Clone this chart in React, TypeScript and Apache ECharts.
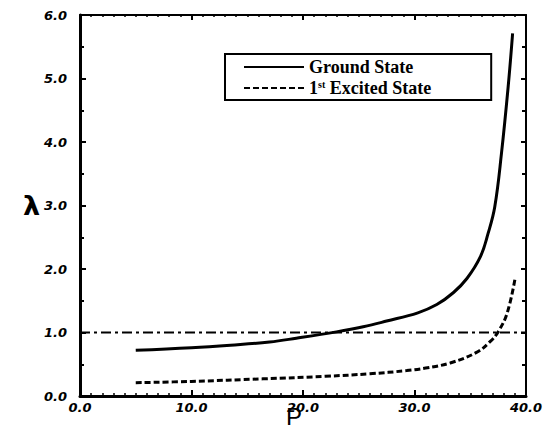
import React, { useEffect, useRef } from "react";
import * as echarts from "echarts";

const groundP = [5, 10, 13.5, 17, 19.4, 23.0, 25.4, 27.5, 30.3, 32.0, 33.5, 34.7, 35.9, 36.6, 37.2, 37.8, 38.4, 38.8];
const groundL = [0.72, 0.76, 0.8, 0.85, 0.91, 1.01, 1.09, 1.18, 1.31, 1.44, 1.63, 1.85, 2.19, 2.56, 2.98, 3.82, 4.87, 5.71];

const excitedP = [5, 10, 16.4, 22, 26, 29.3, 31, 33.2, 35.6, 36.8, 37.5, 38.3, 39.0];
const excitedL = [0.21, 0.23, 0.27, 0.31, 0.35, 0.4, 0.44, 0.52, 0.69, 0.86, 1.01, 1.3, 1.83];

const refP = [0, 40];
const refL = [1, 1];

const xTicks = { min: 0, max: 40, interval: 10 };
const yTicks = { min: 0, max: 6, interval: 1 };

const seriesNames = ["Ground State", "1st Excited State"];

const zip = (a: number[], b: number[]) => a.map((v, i) => [v, b[i]]);

const tickFont = {
  fontFamily: "DejaVu Sans",
  fontWeight: "bold" as const,
  fontStyle: "italic" as const,
  fontSize: 13,
  color: "#000",
};

export default function App() {
  const ref = useRef<HTMLDivElement>(null);
  useEffect(() => {
    if (!ref.current) return;
    const chart = echarts.init(ref.current, null, { renderer: "svg" });
    const legendFont = { fontFamily: "Liberation Serif", fontWeight: "bold" as const, color: "#000" };
    chart.setOption({
      animation: false,
      backgroundColor: "#fff",
      grid: { left: 80, right: 17, top: 15, bottom: 34, outerBoundsMode: "none", containLabel: false },
      legend: {
        data: seriesNames,
        orient: "vertical",
        left: 225,
        top: 54,
        itemWidth: 60,
        itemHeight: 14,
        itemGap: 3,
        padding: [4, 60, 3, 18],
        borderColor: "#000",
        borderWidth: 2,
        borderRadius: 0,
        lineStyle: { width: 2 },
        itemStyle: { color: "rgba(0,0,0,0)", borderWidth: 0, opacity: 0 },
        formatter: (name: string) =>
          name === "1st Excited State" ? "{b|1}{sup|st}{b| Excited State}" : "{b|Ground State}",
        textStyle: {
          ...legendFont,
          fontSize: 18,
          rich: {
            b: { ...legendFont, fontSize: 18, lineHeight: 17 },
            sup: { ...legendFont, fontSize: 10, lineHeight: 17, verticalAlign: "top" },
          },
        },
      },
      xAxis: [
        {
          type: "value",
          ...xTicks,
          position: "bottom",
          name: "P",
          nameLocation: "middle",
          nameGap: 8,
          nameMoveOverlap: false,
          nameTextStyle: { fontFamily: "Liberation Sans", fontSize: 24, color: "#000", padding: [0, 18, 0, 0] },
          axisLine: { show: true, onZero: false, lineStyle: { color: "#000", width: 3 } },
          axisTick: { show: true, inside: true, length: 6, lineStyle: { color: "#000", width: 2 } },
          minorTick: { show: true, splitNumber: 10, length: 3, lineStyle: { color: "#000", width: 1.5 } },
          splitLine: { show: false },
          axisLabel: { ...tickFont, margin: 5, formatter: (v: number) => v.toFixed(1) },
        },
        {
          type: "value",
          ...xTicks,
          position: "top",
          axisLine: { show: true, onZero: false, lineStyle: { color: "#000", width: 2 } },
          axisTick: { show: true, inside: true, length: 5, lineStyle: { color: "#000", width: 2 } },
          minorTick: { show: true, splitNumber: 10, length: 2, lineStyle: { color: "#000", width: 1.5 } },
          splitLine: { show: false },
          axisLabel: { show: false },
        },
      ],
      yAxis: [
        {
          type: "value",
          ...yTicks,
          position: "left",
          name: "λ",
          nameLocation: "middle",
          nameRotate: 0,
          nameGap: 40,
          nameMoveOverlap: false,
          nameTextStyle: { fontFamily: "DejaVu Sans", fontWeight: "bold", fontSize: 27, color: "#000", padding: [0, 0, 24, 0] },
          axisLine: { show: true, onZero: false, lineStyle: { color: "#000", width: 3 } },
          axisTick: { show: true, inside: true, length: 6, lineStyle: { color: "#000", width: 2 } },
          minorTick: { show: true, splitNumber: 2, length: 4, lineStyle: { color: "#000", width: 2 } },
          splitLine: { show: false },
          axisLabel: { ...tickFont, margin: 13, formatter: (v: number) => v.toFixed(1) },
        },
        {
          type: "value",
          ...yTicks,
          position: "right",
          axisLine: { show: true, onZero: false, lineStyle: { color: "#000", width: 2 } },
          axisTick: { show: true, inside: true, length: 5, lineStyle: { color: "#000", width: 2 } },
          minorTick: { show: true, splitNumber: 2, length: 4, lineStyle: { color: "#000", width: 2 } },
          splitLine: { show: false },
          axisLabel: { show: false },
        },
      ],
      series: [
        {
          name: "Ground State",
          type: "line",
          data: zip(groundP, groundL),
          symbol: "none",
          smooth: 0.4,
          color: "#000",
          lineStyle: { color: "#000", width: 3, type: "solid" },
        },
        {
          name: "1st Excited State",
          type: "line",
          data: zip(excitedP, excitedL),
          symbol: "none",
          smooth: 0.4,
          color: "#000",
          lineStyle: { color: "#000", width: 3, type: [6, 3] },
        },
        {
          name: "λ = 1",
          type: "line",
          data: zip(refP, refL),
          symbol: "none",
          color: "#000",
          lineStyle: { color: "#000", width: 2, type: [10, 4, 3, 4] },
        },
      ],
    });
    return () => chart.dispose();
  }, []);
  return (
    <div
      ref={ref}
      style={{ position: "fixed", left: 0, top: 0, width: 543, height: 430, background: "#fff" }}
    />
  );
}
